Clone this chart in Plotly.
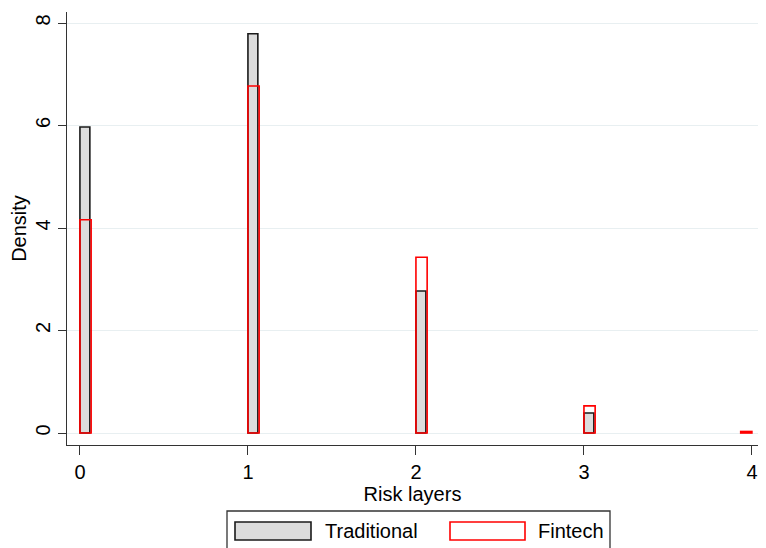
import plotly.graph_objects as go

# Data (bin left edges and densities)
trad_x = [0, 1, 2, 3]
trad_density = [5.97, 7.79, 2.77, 0.39]
fin_x = [0, 1, 2, 3, 3.933]
fin_density = [4.16, 6.77, 3.43, 0.53, 0.03]
trad_width = 0.059
fin_width = 0.0667

x_ticks = [0, 1, 2, 3, 4]
y_ticks = [0, 2, 4, 6, 8]

FONT = "Liberation Sans, Arial, sans-serif"

# The page body has an 8px margin, so the figure is sized to fit the
# remaining window and all reference pixel positions are offset by 8.
OFF = 8
W, H = 766 - 2 * OFF, 548 - OFF
L, R, T, B = 67 - OFF, 0, 12 - OFF, 548 - 445

fig = go.Figure()
fig.add_trace(go.Bar(
    x=trad_x, y=trad_density, width=[trad_width] * len(trad_x), offset=0,
    marker=dict(color="#dcdcdc", line=dict(color="#1a1a1a", width=1.6)),
    name="Traditional", showlegend=False,
))
fig.add_trace(go.Bar(
    x=fin_x, y=fin_density, width=[fin_width] * len(fin_x), offset=0,
    marker=dict(color="rgba(0,0,0,0)", line=dict(color="#ff0000", width=1.6)),
    name="Fintech", showlegend=False,
))

fig.update_layout(
    width=W, height=H, barmode="overlay",
    margin=dict(l=L, r=R, t=T, b=B, pad=0),
    paper_bgcolor="white", plot_bgcolor="white",
    font=dict(family=FONT, size=20, color="black"),
    xaxis=dict(
        range=[-0.077, 4.036], tickvals=x_ticks, ticktext=[str(v) for v in x_ticks],
        ticklabeloverflow="allow",
        showgrid=False, zeroline=False, showline=True, linecolor="#333333", linewidth=1.3,
        ticks="outside", ticklen=9, tickcolor="#333333", tickwidth=1.3,
        title=dict(text="Risk layers", standoff=0, font=dict(size=20)),
    ),
    yaxis=dict(
        range=[-0.234, 8.215], tickvals=y_ticks, ticktext=[str(v) for v in y_ticks],
        tickangle=-90, ticklabeloverflow="allow",
        showgrid=True, gridcolor="#e8eff1", gridwidth=1.2, zeroline=False,
        showline=True, linecolor="#333333", linewidth=1.3,
        ticks="outside", ticklen=8, tickcolor="#333333", tickwidth=1.3,
        title=dict(text="Density", standoff=0, font=dict(size=20)),
    ),
)

PW = W - L - R
PH = H - T - B

def px_x(x):
    return (x - OFF - L) / PW

def px_y(y):
    return (H - B - (y - OFF)) / PH

# Legend box drawn manually (paper coordinates converted from screen pixels)
shapes = [
    dict(type="rect", xref="paper", yref="paper",
         x0=px_x(227), x1=px_x(610), y0=px_y(560), y1=px_y(511),
         line=dict(color="#333333", width=1.3), fillcolor="white", layer="above"),
    dict(type="rect", xref="paper", yref="paper",
         x0=px_x(235), x1=px_x(311), y0=px_y(540), y1=px_y(522),
         line=dict(color="#1a1a1a", width=1.6), fillcolor="#dcdcdc", layer="above"),
    dict(type="rect", xref="paper", yref="paper",
         x0=px_x(450), x1=px_x(525), y0=px_y(540), y1=px_y(522),
         line=dict(color="#ff0000", width=1.6), fillcolor="white", layer="above"),
]
fig.update_layout(shapes=shapes)
fig.add_annotation(text="Traditional", xref="paper", yref="paper",
                   x=px_x(323), y=px_y(531), xanchor="left", yanchor="middle",
                   showarrow=False, font=dict(size=20, family=FONT))
fig.add_annotation(text="Fintech", xref="paper", yref="paper",
                   x=px_x(536), y=px_y(531), xanchor="left", yanchor="middle",
                   showarrow=False, font=dict(size=20, family=FONT))

fig.write_html("out.html")
